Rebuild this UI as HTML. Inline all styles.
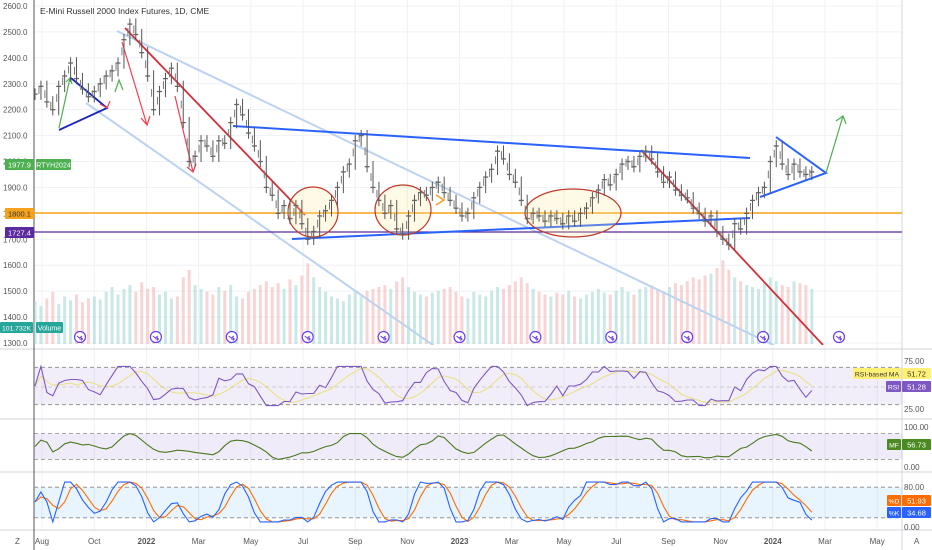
<!DOCTYPE html>
<html><head><meta charset="utf-8"><style>
html,body{margin:0;padding:0;background:#fff;width:932px;height:550px;overflow:hidden;font-family:"Liberation Sans",sans-serif}
svg{display:block}
text{font-family:"Liberation Sans",sans-serif}
</style></head><body>
<svg id="c" width="932" height="550" viewBox="0 0 932 550"><defs><clipPath id="mainclip"><rect x="34" y="0" width="868" height="345"/></clipPath></defs></svg>
<script>
const months=["Aug","Oct","2022","Mar","May","Jul","Sep","Nov","2023","Mar","May","Jul","Sep","Nov","2024","Mar","May"];
const priceTicks=[2600,2500,2400,2300,2200,2100,2000,1900,1800,1700,1600,1500,1400,1300];
const closes=[2260,2290,2230,2200,2290,2330,2380,2320,2280,2250,
2270,2300,2330,2350,2380,2470,2530,2490,2420,2330,
2200,2270,2320,2360,2290,2150,2000,2020,2080,2060,
2020,2080,2070,2150,2220,2180,2110,2060,2000,1900,
1870,1800,1830,1780,1830,1760,1700,1730,1790,1810,
1850,1900,1960,1990,2080,2100,1980,1900,1850,1800,
1830,1740,1720,1790,1850,1880,1870,1900,1920,1880,
1850,1820,1790,1800,1860,1900,1940,1970,2040,2010,
1950,1920,1850,1780,1800,1790,1770,1790,1780,1760,
1790,1770,1800,1820,1860,1890,1930,1910,1950,1990,
2000,1980,2020,2040,2010,1960,1920,1940,1890,1870,
1860,1820,1800,1770,1790,1730,1700,1680,1760,1740,
1800,1850,1880,1900,2000,2060,1990,1950,1990,1960,1950,1960];
const volumes=[45,40,48,55,42,50,46,52,44,48,50,47,55,60,52,58,62,55,65,58,
60,52,55,48,50,70,78,62,58,55,52,60,56,62,50,48,55,58,62,66,
60,64,58,68,62,72,85,70,60,55,50,48,45,52,55,50,56,58,60,62,
58,66,70,60,55,52,50,54,56,58,60,55,50,48,55,52,50,56,60,58,
62,66,70,64,58,55,52,50,54,52,56,50,48,52,55,58,54,52,56,60,
55,52,58,60,62,58,55,60,64,62,66,70,68,72,74,80,88,78,70,66,
62,60,58,64,70,66,62,60,66,64,62,58];
const svg=document.getElementById('c');
const NS='http://www.w3.org/2000/svg';
function el(t,a,p){const e=document.createElementNS(NS,t);for(const k in a)e.setAttribute(k,a[k]);(p||svg).appendChild(e);return e;}
const xi=i=>35+i*5.93;
const yp=p=>6+(2600-p)*0.2592;
const g=el('g',{});


priceTicks.forEach(p=>el('line',{x1:34,x2:902,y1:yp(p),y2:yp(p),stroke:'#eef1f6'},g));
months.forEach((m,i)=>{const x=42+i*52.2;el('line',{x1:x,x2:x,y1:0,y2:530,stroke:'#eef1f6'},g);});
[349,419,472,530].forEach(v=>el('line',{x1:0,x2:932,y1:v,y2:v,stroke:'#d1d4dc'}));
el('line',{x1:34,x2:34,y1:0,y2:550,stroke:'#555'});
el('line',{x1:902,x2:902,y1:0,y2:550,stroke:'#d1d4dc'});
priceTicks.forEach(p=>{const t=el('text',{x:3,y:yp(p)+3,'font-size':8,fill:'#555'});t.textContent=p.toFixed(1);

});
const main=el('g',{'clip-path':'url(#mainclip)'});
const vg=el('g',{},main);


volumes.forEach((v,i)=>{const up=i==0||closes[i]>=closes[i-1];const h=v*0.95;
const r=el('rect',{x:xi(i)-1.5,y:344-h,width:3,height:h,fill:up?'#9fd6cf':'#f2b3b3',opacity:0.55},vg);

});
const d=el('g',{fill:'none'},main);


el('line',{x1:117,y1:31,x2:930,y2:420,stroke:'#bcd3f0','stroke-width':2},d);
el('line',{x1:86,y1:103,x2:440,y2:350,stroke:'#bcd3f0','stroke-width':2},d);
el('line',{x1:125,y1:28,x2:305,y2:215,stroke:'#d0303a','stroke-width':1.8},d);
el('line',{x1:641,y1:150,x2:823,y2:345,stroke:'#d0303a','stroke-width':1.8},d);
el('line',{x1:34,y1:213,x2:902,y2:213,stroke:'#f7a21b','stroke-width':1.6},d);
el('line',{x1:34,y1:232,x2:902,y2:232,stroke:'#5b2a9e','stroke-width':1.3},d);
el('line',{x1:233,y1:126,x2:750,y2:158,stroke:'#2962ff','stroke-width':2},d);
el('line',{x1:292,y1:239,x2:750,y2:218,stroke:'#2962ff','stroke-width':2},d);
el('polyline',{points:'776,137 826,173 760,197',stroke:'#2962ff','stroke-width':2},d);
el('polyline',{points:'59,130 107,108 71,78',stroke:'#1a22c0','stroke-width':1.8},d);
el('polyline',{points:'59,128 70,78',stroke:'#4caf50','stroke-width':1.2},d);
el('polyline',{points:'826,173 843,116',stroke:'#4caf50','stroke-width':1.2},d);
el('polyline',{points:'836,121 843,116 846,124',stroke:'#4caf50','stroke-width':1.2},d);
el('polyline',{points:'66,82 70,78 72,84',stroke:'#4caf50','stroke-width':1.2},d);
el('polyline',{points:'115,92 119,80 123,90',stroke:'#4caf50','stroke-width':1.2},d);
el('polyline',{points:'122,42 147,125',stroke:'#f04050','stroke-width':1.2},d);
el('polyline',{points:'141,118 147,125 150,116',stroke:'#f04050','stroke-width':1.2},d);
el('polyline',{points:'175,96 193,172',stroke:'#f04050','stroke-width':1.2},d);
el('polyline',{points:'187,167 193,172 196,164',stroke:'#f04050','stroke-width':1.2},d);
el('polyline',{points:'100,104 107,108 110,101',stroke:'#f04050','stroke-width':1.2},d);
el('polyline',{points:'436,195 444,200 436,205',stroke:'#f7a21b','stroke-width':1.6},d);
el('ellipse',{cx:313,cy:212,rx:25,ry:25,stroke:'#c0392b',fill:'rgba(255,235,150,0.25)','stroke-width':1.2},d);
el('ellipse',{cx:403,cy:210,rx:28,ry:25,stroke:'#c0392b',fill:'rgba(255,235,150,0.25)','stroke-width':1.2},d);
el('ellipse',{cx:573,cy:213,rx:48,ry:24,stroke:'#c0392b',fill:'rgba(255,235,150,0.25)','stroke-width':1.2},d);
const pg=el('g',{},main);


closes.forEach((c,i)=>{const o=i?closes[i-1]:c;const hi=Math.max(o,c)+22,lo=Math.min(o,c)-22;
const x=xi(i);
const l=el('line',{x1:x,x2:x,y1:yp(hi),y2:yp(lo),stroke:'#555','stroke-width':1},pg);


const l2=el('line',{x1:x-2.5,x2:x+2.5,y1:yp(c),y2:yp(c),stroke:'#666','stroke-width':1.3},pg);


const l3=el('line',{x1:x-2,x2:x-2,y1:yp((o+c)/2+15),y2:yp((o+c)/2-15),stroke:'#777','stroke-width':1},pg);

});
for(let k=0;k<11;k++){const cx=80+k*75.9;const ic=el('g',{});


el('circle',{cx:cx,cy:337,r:5.5,fill:'#fff',stroke:'#6a3ee8','stroke-width':1.2},ic);
el('path',{d:`M${cx-3} 336 l2.5 2 2.5-2 M${cx-0.5} 339 h3 M${cx+1} 337.5 l1.5 1.5 -1.5 1.5`,stroke:'#6a3ee8',fill:'none','stroke-width':1},ic);}
function rsi(arr,n){const out=[];for(let i=0;i<arr.length;i++){let g=0,l=0;for(let j=Math.max(1,i-n+1);j<=i;j++){const d=arr[j]-arr[j-1];if(d>0)g+=d;else l-=d;}out.push(g+l===0?50:100*g/(g+l));}return out;}
function sma(a,n){return a.map((v,i)=>{let s=0,c=0;for(let j=Math.max(0,i-n+1);j<=i;j++){s+=a[j];c++;}return s/c;});}
const r=rsi(closes,5).map(v=>50+(v-50)*0.42);
const rma=sma(r,6);
const mf=sma(rsi(closes,6),2).map(v=>50+(v-50)*0.6);
const k=closes.map((c,i)=>{const s=closes.slice(Math.max(0,i-6),i+1);const hi=Math.max(...s),lo=Math.min(...s);return hi===lo?50:100*(c-lo)/(hi-lo);});
const kk=sma(k,2).map(v=>12+v*0.78),dd=sma(kk,3);
function pane(top,bot,vmin,vmax,bands,fill,series,name){
const y=v=>bot-(v-vmin)/(vmax-vmin)*(bot-top);
const pgp=el('g',{});


el('rect',{x:34,y:y(bands[1]),width:868,height:y(bands[0])-y(bands[1]),fill:fill},pgp);
bands.forEach(b=>el('line',{x1:34,x2:902,y1:y(b),y2:y(b),stroke:'#888','stroke-dasharray':'4 3','stroke-width':0.8},pgp));
series.forEach(s=>{const pts=s.d.map((v,i)=>xi(i).toFixed(1)+','+y(v).toFixed(1)).join(' ');
el('polyline',{points:pts,fill:'none',stroke:s.c,'stroke-width':1.1},pgp);});}
pane(358,414,20,80,[30,70],'rgba(126,87,194,0.1)',[{d:rma,c:'#e8e08a'},{d:r,c:'#7e57c2'}],'rsi-pane');
el('line',{x1:34,x2:902,y1:387,y2:387,stroke:'#aaa','stroke-dasharray':'4 3','stroke-width':0.6});
pane(425,468,0,100,[20,80],'rgba(126,87,194,0.12)',[{d:mf,c:'#4a7a20'}],'mfi-pane');
pane(477,528,0,100,[20,80],'rgba(33,150,243,0.1)',[{d:dd,c:'#ff6d00'},{d:kk,c:'#2962ff'}],'stoch-pane');
[['75.00',364],['25.00',412],['100.00',430],['0.00',470],['80.00',490],['0.00',530]].forEach(a=>{const t=el('text',{x:904,y:a[1],'font-size':8,fill:'#555'});t.textContent=a[0];

});
function badge(x,y,w,bg,fg,txt,name,fs){const b=el('g',{});


el('rect',{x:x,y:y,width:w,height:11,fill:bg,rx:1},b);const t=el('text',{x:x+w/2,y:y+8.5,'font-size':fs||7.5,fill:fg,'text-anchor':'middle'},b);t.textContent=txt;}
badge(853,368,48,'#fff176','#333','RSI-based MA','rsi-ma-legend',6.8);badge(902,368,29,'#fff176','#333','51.72','rsi-ma-value');
badge(886,381,15,'#7e57c2','#fff','RSI','rsi-legend',6.8);badge(902,381,29,'#7e57c2','#fff','51.28','rsi-value');
badge(887,439,14,'#4a8a20','#fff','MF','mf-legend',6.8);badge(902,439,29,'#4a8a20','#fff','56.73','mf-value');
badge(887,495,14,'#ff6d00','#fff','%D','d-legend',6.8);badge(902,495,29,'#ff6d00','#fff','51.93','d-value');
badge(887,507,14,'#2962ff','#fff','%K','k-legend',6.8);badge(902,507,29,'#2962ff','#fff','34.68','k-value');
badge(5,159,29,'#4caf50','#fff','1977.9','last-price-label');badge(36,159,35,'#4caf50','#fff','RTYH2024','symbol-label',7);
badge(5,208,29,'#f7a21b','#333','1800.1','level-1800-label');badge(5,227,29,'#5b2a9e','#fff','1727.4','level-1727-label');
badge(0,322,33,'#26a69a','#fff','101.732K','volume-value-label',6.8);badge(36,322,27,'#26a69a','#fff','Volume','volume-label',7);
const title=el('text',{x:40,y:14,'font-size':8.5,fill:'#333'});title.textContent='E-Mini Russell 2000 Index Futures, 1D, CME';


months.forEach((m,i)=>{const t=el('text',{x:42+i*52.2,y:544,'font-size':8,fill:'#555','text-anchor':'middle','font-weight':(m.length==4?'bold':'normal')});t.textContent=m;

});
const z=el('text',{x:15,y:544,'font-size':8,fill:'#555'});z.textContent='Z';


const a=el('text',{x:914,y:544,'font-size':8,fill:'#555'});a.textContent='A';


</script>
</body></html>
